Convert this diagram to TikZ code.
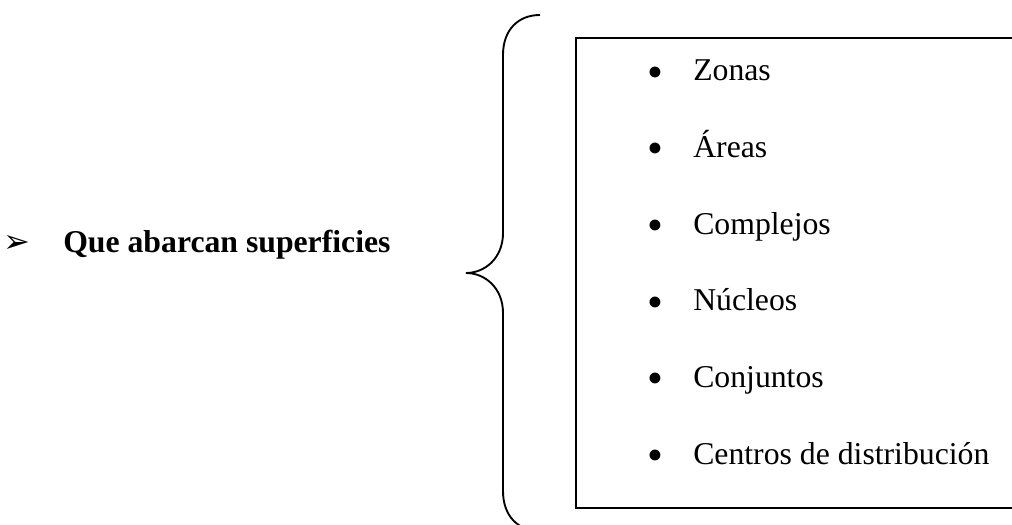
\documentclass[tikz,border=0pt]{standalone}
\usepackage{fontspec}
\setmainfont{Liberation Serif}
\newfontfamily\dingfont{DejaVu Sans}
\usetikzlibrary{positioning}

\begin{document}
\begin{tikzpicture}[x=0.75pt,y=-0.75pt,
  frame/.style={black,line width=1.4pt},
  every node/.style={font=\fontsize{23.8}{28}\selectfont,inner sep=0pt}]
  \clip (0,0) rectangle (1012,524);

  % the brace and the open box on the right
  \draw[frame] (540,15) .. controls (518,15) and (503,30) .. (503,55)
    -- (503,233) .. controls (503,258) and (485,273) .. (466,273)
    .. controls (485,273) and (503,288) .. (503,313)
    -- (503,491) .. controls (503,516) and (518,531) .. (540,531);
  \draw[frame] (1030,38) -- (576,38) -- (576,508) -- (1030,508);

  \node[anchor=base west] (head) at (63,252)
    {\textbf{Que abarcan superficies}};
  \node[left=24pt of head.base west,anchor=base east,
    font=\dingfont\fontsize{24}{26}\selectfont] (mark) {➢};

  \foreach \txt [count=\i] in {Zonas,Áreas,Complejos,Núcleos,Conjuntos,
      Centros de distribución} {
    \node[font=\fontsize{34}{36}\selectfont] (dot\i)
      at (655,{77+76.6*(\i-1)}) {•};
    \node[anchor=base west] (item\i) at (693,{81+76.6*(\i-1)}) {\txt};
  }
\end{tikzpicture}
\end{document}
